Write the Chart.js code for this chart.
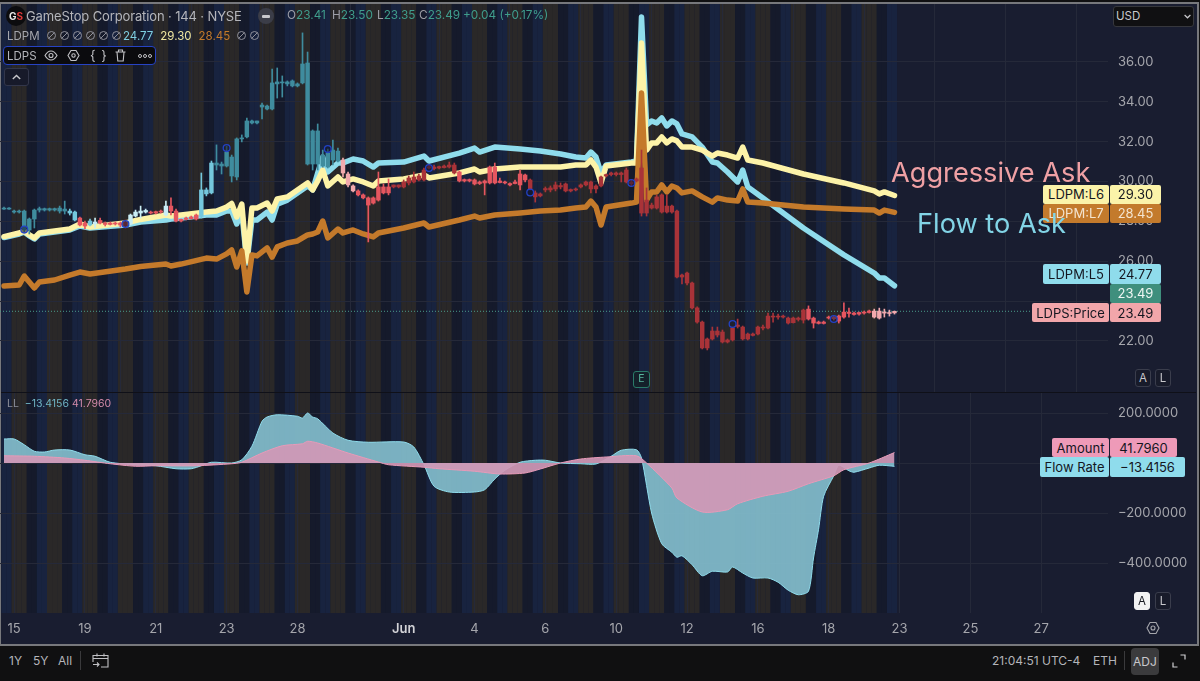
<!DOCTYPE html>
<html>
<head>
<meta charset="utf-8">
<title>GameStop Corporation 144 NYSE</title>
<script src="https://cdn.jsdelivr.net/npm/chart.js@4"></script>
<style>
html, body { margin: 0; padding: 0; width: 1200px; height: 681px; overflow: hidden; background: #101011; font-family: Inter, "Noto Sans", sans-serif; }
#frame { position: absolute; left: 0; top: 2px; width: 1196px; height: 640px; background: #191d30; border: 1px solid #77787c; border-width: 2px 2px 2px 1px; box-sizing: content-box; }
canvas { position: absolute; left: 0; display: block; }
#priceCanvas { top: 4px; }
#flowCanvas { top: 392px; }
.t { position: absolute; white-space: nowrap; line-height: 1; }
.tag { position: absolute; font-size: 13px; color: #14161f; display: flex; align-items: center; justify-content: center; border-radius: 2px; height: 19.3px; white-space: nowrap; }
.btn { position: absolute; width: 16px; height: 18px; border: 1px solid #3a3d4c; border-radius: 3px; color: #c8c8cc; font-size: 11.5px; display: flex; align-items: center; justify-content: center; box-sizing: border-box; background: #181b2a; }
.no { display: inline-block; vertical-align: -1px; margin-right: 2px; }
svg { position: absolute; overflow: visible; }
.no svg { position: static; }
</style>
</head>
<body>
<div id="frame"></div>
<canvas id="priceCanvas" width="1196" height="388"></canvas>
<canvas id="flowCanvas" width="1196" height="250"></canvas>
<div style="position:absolute;left:1px;top:392px;width:1195px;height:1px;background:#0f1018"></div>

<!-- header -->
<div class="t" style="left:6px;top:6px;width:20px;height:20px;border-radius:50%;background:#0c0c0e"></div>
<div class="t" style="left:9px;top:11px;font-size:10px;font-weight:700;color:#e8e8e8">G<span style="color:#e23b3b">S</span></div>
<div class="t" style="left:26px;top:9.5px;font-size:13px;letter-spacing:-.13px;color:#b4b5ba">GameStop Corporation · 144 · NYSE</div>
<div class="t" style="left:258px;top:8px;width:16px;height:16px;border-radius:50%;background:#3b3d48"></div>
<div class="t" style="left:262px;top:15px;width:8px;height:2.5px;border-radius:1px;background:#c8c8cc"></div>
<div class="t" style="left:287px;top:10px;font-size:11.8px;color:#3f9d8c"><span style="color:#9c9da6">O</span>23.41</div>
<div class="t" style="left:332px;top:10px;font-size:11.8px;color:#3f9d8c"><span style="color:#9c9da6">H</span>23.50</div>
<div class="t" style="left:377px;top:10px;font-size:11.8px;color:#3f9d8c"><span style="color:#9c9da6">L</span>23.35</div>
<div class="t" style="left:419px;top:10px;font-size:11.8px;color:#3f9d8c"><span style="color:#9c9da6">C</span>23.49</div>
<div class="t" style="left:463px;top:10px;font-size:11.8px;color:#3f9d8c">+0.04 (+0.17%)</div>
<div class="t" style="left:7px;top:29.5px;font-size:11.5px;color:#a5a6ac" id="ldpmRow"></div>
<div class="t" style="left:3px;top:46px;width:153px;height:19px;background:#0b0b0e;border:1px solid #2743c4;border-radius:4px;box-sizing:border-box"></div>
<div class="t" style="left:7px;top:50.5px;font-size:11.5px;color:#b4b5ba">LDPS</div>
<svg style="left:44px;top:50px" width="14" height="11" viewBox="0 0 14 11" fill="none" stroke="#c0c0c4" stroke-width="1.1"><path d="M1 5.5C3 2 5 1 7 1s4 1 6 4.500C11 9 9 10 7 10S3 9 1 5.500Z"/><circle cx="7" cy="5.500" r="2"/></svg>
<svg style="left:67px;top:49px" width="13" height="13" viewBox="0 0 13 13" fill="none" stroke="#c0c0c4" stroke-width="1.1"><path d="M4 1.500h5l3 5-3 5H4l-3-5Z"/><circle cx="6.500" cy="6.500" r="1.700"/></svg>
<div class="t" style="left:90px;top:49px;font-size:13px;color:#c0c0c4;letter-spacing:1px">{ }</div>
<svg style="left:115px;top:49px" width="11" height="13" viewBox="0 0 11 13" fill="none" stroke="#c0c0c4" stroke-width="1.1"><path d="M.5 3h10M3.500 3V1h4v2M2 3l.8 9h5.400L9 3"/></svg>
<div class="t" style="left:138px;top:54px;width:2px;height:2px;border:1px solid #c0c0c4;border-radius:50%"></div>
<div class="t" style="left:143px;top:54px;width:2px;height:2px;border:1px solid #c0c0c4;border-radius:50%"></div>
<div class="t" style="left:148px;top:54px;width:2px;height:2px;border:1px solid #c0c0c4;border-radius:50%"></div>
<div class="t" style="left:4px;top:68px;width:25px;height:18px;border:1px solid #32364a;border-radius:3px;box-sizing:border-box;background:#171a2a"></div>
<svg style="left:12px;top:74px" width="9" height="6" viewBox="0 0 9 6" fill="none" stroke="#c8c8cc" stroke-width="1.4"><path d="M.8 5 4.500 1.500 8.200 5"/></svg>
<div class="t" style="left:1113px;top:6px;width:81px;height:21px;background:#101012;border:1px solid #36373c;border-radius:3px;box-sizing:border-box"></div>
<div class="t" style="left:1116px;top:11px;font-size:11.5px;color:#c8c8cc">USD</div>
<svg style="left:1184px;top:14px" width="7" height="5" viewBox="0 0 7 5" fill="none" stroke="#c8c8cc" stroke-width="1.2"><path d="M.6 1 3.500 3.800 6.400 1"/></svg>

<!-- lower pane legend -->
<div class="t" style="left:7px;top:399px;font-size:10.5px;color:#8b8d98">LL &nbsp;<span style="color:#6fb4c4">−13.4156</span> <span style="color:#d28aa8">41.7960</span></div>

<!-- earnings marker -->
<div class="t" style="left:633px;top:371px;width:17px;height:17px;border:1px solid #2a7a68;border-radius:3px;box-sizing:border-box;background:#14202a;color:#58b59e;font-size:10.5px;display:flex;align-items:center;justify-content:center">E</div>

<!-- price tags -->
<div class="tag" style="left:1043px;top:184.500px;width:66px;background:#fbf3a9">LDPM:L6</div>
<div class="tag" style="left:1110px;top:184.500px;width:51px;background:#fbf3a9">29.30</div>
<div class="tag" style="left:1043px;top:203.800px;width:66px;background:#c37a2c;color:#f4e4cf">LDPM:L7</div>
<div class="tag" style="left:1110px;top:203.800px;width:51px;background:#c37a2c;color:#f4e4cf">28.45</div>
<div class="tag" style="left:1043px;top:264.300px;width:66px;background:#8fdcec">LDPM:L5</div>
<div class="tag" style="left:1110px;top:264.300px;width:51px;background:#8fdcec">24.77</div>
<div class="tag" style="left:1110px;top:283.600px;width:51px;background:#3f8f7d;color:#eef6f3">23.49</div>
<div class="tag" style="left:1032px;top:302.900px;width:77px;background:#f2a6aa">LDPS:Price</div>
<div class="tag" style="left:1110px;top:302.900px;width:51px;background:#f2a6aa">23.49</div>
<div class="tag" style="left:1052px;top:438px;width:57px;background:#ee9ab8">Amount</div>
<div class="tag" style="left:1110px;top:438px;width:67px;background:#ee9ab8">41.7960</div>
<div class="tag" style="left:1040px;top:457.300px;width:69px;background:#8fdcec">Flow Rate</div>
<div class="tag" style="left:1110px;top:457.300px;width:75px;background:#8fdcec">−13.4156</div>

<!-- annotations on the chart -->
<div class="t" style="left:891px;top:159px;font-size:27.2px;color:#efa0a4">Aggressive Ask</div>
<div class="t" style="left:917px;top:210px;font-size:27.2px;color:#82d4e6">Flow to Ask</div>

<div class="btn" style="left:1135px;top:369px">A</div>
<div class="btn" style="left:1155px;top:369px">L</div>
<div class="btn" style="left:1134px;top:592px;background:#f2f2f2;color:#16181f;border-color:#f2f2f2">A</div>
<div class="btn" style="left:1155px;top:592px">L</div>
<svg style="left:1146px;top:621px" width="14" height="14" viewBox="0 0 14 14" fill="none" stroke="#a5a6ac" stroke-width="1.1"><path d="M4 1.500h6l3 5.500-3 5.500H4L1 7Z"/><circle cx="7" cy="7" r="2"/></svg>

<!-- bottom bar -->
<div class="t" style="left:9px;top:655px;font-size:12px;color:#b4b5ba">1Y</div>
<div class="t" style="left:33px;top:655px;font-size:12px;color:#b4b5ba">5Y</div>
<div class="t" style="left:58px;top:655px;font-size:12px;color:#b4b5ba">All</div>
<div class="t" style="left:80px;top:651px;width:1px;height:19px;background:#3a3a3c"></div>
<svg style="left:92px;top:652px" width="17" height="17" viewBox="0 0 17 17" fill="none" stroke="#c0c0c4" stroke-width="1.1"><path d="M1 10V3.500h15V15H9M1 6.500h15M5 1.500v3M12 1.500v3M1 12.500h6M5 10.500l2 2-2 2"/></svg>
<div class="t" style="left:992px;top:655px;font-size:12px;color:#b4b5ba">21:04:51 UTC-4</div>
<div class="t" style="left:1093px;top:655px;font-size:12px;color:#b4b5ba">ETH</div>
<div class="t" style="left:1124px;top:651px;width:1px;height:19px;background:#3a3a3c"></div>
<div class="t" style="left:1131px;top:648px;width:28px;height:27px;border-radius:4px;background:#3b3b3d;color:#c8c8cc;font-size:12px;display:flex;align-items:center;justify-content:center">ADJ</div>
<svg style="left:1172px;top:654px" width="14" height="14" viewBox="0 0 14 14" fill="none" stroke="#d0d0d4" stroke-width="1.2"><path d="M8.500 1h4.500v4.500M1 8.500V13h4.500"/></svg>

<script>
// Candles, one per 144 minute bar
const bodyTop = [
    28.67,28.67,28.52,28.52,28.52,28.12,28.57,28.64,28.64,28.64,
    28.64,28.67,28.62,28.52,28.47,28.17,27.92,28.02,27.97,28.05,
    27.92,27.92,27.92,27.92,27.97,28.32,28.47,28.52,28.55,28.47,
    28.49,28.52,28.77,28.77,28.52,28.10,28.17,28.22,28.32,29.58,
    29.58,30.93,30.93,30.88,31.48,31.23,32.14,32.19,33.04,33.04,
    33.04,33.84,33.79,34.95,35.00,35.00,35.00,35.05,34.90,35.90,
    35.95,32.54,32.54,31.33,31.43,31.58,31.53,31.08,30.38,29.78,
    29.53,29.33,29.18,29.18,29.73,29.73,29.73,29.83,29.83,29.98,
    30.18,30.23,30.28,30.58,30.75,30.73,30.75,30.78,30.83,30.83,
    30.48,30.10,30.10,30.08,29.98,30.03,30.73,30.73,30.03,29.98,
    29.90,29.98,30.38,30.33,30.08,29.43,29.38,29.65,29.68,29.83,
    29.80,29.88,29.60,29.63,29.83,29.98,29.98,29.78,30.23,30.35,
    30.43,30.43,30.43,30.58,29.98,30.13,30.68,29.07,28.82,29.23,
    29.33,28.77,28.77,28.52,25.31,25.41,24.91,23.66,22.95,22.10,
    22.50,22.50,22.45,22.05,22.65,22.80,22.70,22.35,22.35,22.70,
    22.70,23.25,23.25,23.25,23.25,23.15,23.15,23.15,23.55,23.60,
    23.15,22.95,22.95,23.20,23.20,23.25,23.45,23.45,23.40,23.43,
    23.45,23.50,23.50,23.50,23.45,23.43,23.49
];
const bodyBottom = [
    28.62,28.62,28.47,28.47,27.57,27.57,28.12,28.57,28.57,28.57,
    28.57,28.52,28.52,28.42,28.07,27.82,27.77,27.82,27.87,27.92,
    27.85,27.85,27.87,27.82,27.77,27.87,28.27,28.42,28.47,28.42,
    28.42,28.47,28.32,28.52,28.02,28.02,28.10,28.14,28.12,28.25,
    29.38,29.43,30.83,30.78,30.78,30.28,30.23,32.14,32.24,32.94,
    32.94,33.74,33.64,33.64,34.90,34.95,34.90,34.80,34.80,34.95,
    30.88,30.88,30.88,30.78,30.73,31.08,31.03,30.43,29.83,29.53,
    29.33,29.18,28.82,28.92,29.07,29.43,29.43,29.73,29.73,29.73,
    29.93,29.98,30.08,30.08,30.68,30.65,30.68,30.70,30.73,30.43,
    30.03,30.03,30.03,29.88,29.90,29.93,29.93,29.93,29.95,29.93,
    29.83,29.90,29.83,30.08,29.63,29.23,29.28,29.58,29.58,29.63,
    29.73,29.53,29.53,29.58,29.73,29.83,29.63,29.63,29.78,30.28,
    30.35,30.35,30.35,29.98,29.88,30.03,28.42,28.42,28.67,28.67,
    28.47,28.47,28.47,25.21,25.21,24.91,23.66,22.95,21.65,21.65,
    22.10,22.30,21.95,21.95,22.05,22.73,22.10,22.10,22.28,22.35,
    22.65,22.65,23.20,23.20,23.20,22.90,22.92,23.08,23.05,23.10,
    22.90,22.88,22.88,23.15,23.12,23.00,23.20,23.38,23.33,23.35,
    23.40,23.43,23.20,23.15,23.40,23.38,23.41
];
const wickHigh = [
    28.72,28.69,28.57,28.57,28.57,28.17,28.62,28.72,28.67,28.67,
    28.67,28.77,29.02,28.62,28.52,28.22,28.02,28.12,28.17,28.17,
    27.97,27.97,27.97,27.97,28.07,28.37,28.57,28.77,28.62,28.52,
    28.52,28.57,29.02,29.18,28.62,28.12,28.22,28.27,28.37,30.43,
    29.68,31.03,31.84,30.98,31.78,31.33,32.19,32.34,33.19,33.09,
    33.04,33.94,33.84,35.65,35.70,35.30,35.05,35.10,34.95,37.46,
    36.50,32.59,32.89,31.58,31.63,32.08,31.68,31.18,30.48,29.83,
    29.58,29.38,29.23,29.23,30.48,29.88,30.13,29.83,29.83,30.08,
    30.28,30.48,30.38,30.68,30.83,30.83,30.78,30.83,30.98,30.93,
    30.53,30.13,30.13,30.13,30.03,30.08,30.78,30.93,30.18,30.03,
    29.93,30.08,30.58,30.38,30.13,29.53,29.43,29.73,29.78,29.98,
    29.93,29.93,29.63,29.68,29.88,30.03,30.03,29.83,30.28,30.38,
    30.48,30.48,30.48,30.68,30.08,30.18,31.58,29.68,28.92,29.33,
    29.38,29.33,28.82,28.57,25.36,25.46,24.96,23.71,23.00,22.15,
    22.70,22.70,22.55,22.10,22.70,23.10,22.75,22.40,22.40,22.75,
    22.80,23.40,23.40,23.35,23.30,23.20,23.20,23.20,23.60,23.76,
    23.20,23.00,23.00,23.25,23.25,23.30,23.91,23.65,23.45,23.45,
    23.50,23.55,23.60,23.65,23.60,23.55,23.50
];
const wickLow = [
    28.60,28.60,28.42,28.42,27.47,27.37,27.67,28.47,28.52,28.52,
    28.52,28.42,28.37,28.32,28.02,27.77,27.62,27.77,27.67,27.87,
    27.77,27.82,27.82,27.72,27.67,27.82,28.22,28.17,28.42,28.37,
    28.37,28.42,28.27,28.32,27.97,27.97,28.07,28.12,28.07,28.17,
    29.28,29.38,30.58,30.38,30.73,29.98,30.08,31.99,32.19,32.89,
    32.89,33.14,33.59,33.59,34.19,34.24,34.80,34.75,34.75,34.90,
    30.83,30.58,30.58,30.73,30.68,30.83,30.98,30.23,29.73,29.48,
    29.28,29.13,26.97,28.87,29.02,29.38,29.33,29.68,29.68,29.68,
    29.83,29.93,30.03,30.03,30.63,30.58,30.63,30.68,30.68,30.38,
    29.98,29.98,29.98,29.83,29.85,29.33,29.88,29.88,29.93,29.88,
    29.78,29.88,29.58,29.98,29.58,28.97,29.23,29.48,29.48,29.53,
    29.63,29.48,29.48,29.53,29.68,29.78,29.43,29.43,29.73,30.23,
    30.28,30.28,29.98,29.93,29.78,29.98,28.27,28.27,28.62,28.62,
    28.42,28.42,28.42,25.16,24.86,24.81,23.61,22.90,21.60,21.55,
    22.05,22.20,21.90,21.90,22.00,22.65,22.05,22.05,22.25,22.30,
    22.55,22.60,22.95,23.10,23.15,22.85,22.90,23.00,22.90,23.05,
    22.65,22.85,22.85,23.10,23.05,22.90,23.15,23.20,23.30,23.30,
    23.35,23.40,23.15,23.10,23.20,23.25,23.35
];
// Flow state of each bar, 0 strong bid ... 5 strong ask
const flowState = [
    0,0,0,0,0,0,0,0,0,0,0,0,0,1,1,4,4,1,2,4,4,4,4,4,5,2,2,2,2,4,4,4,2,4,4,4,4,4,4,1,1,1,
    0,0,0,0,0,0,0,0,0,0,0,0,0,0,0,0,0,0,0,0,0,0,0,0,0,
    3,3,3,4,4,4,4,4,4,4,5,5,5,5,5,5,5,5,5,5,5,5,5,
    4,4,4,4,4,4,4,4,4,4,4,4,4,4,5,5,
    5,5,5,5,5,5,5,5,5,5,5,5,5,5,5,5,5,5,5,5,
    5,5,5,5,5,5,5,5,5,5,5,5,5,5,5,5,5,5,5,5,5,5,5,5,5,5,5,5,5,5,5,5,5,
    4,4,4,4,4,4,4,4,4,4,4,4,4,3,3,3,3,3
];
const markerBars = [4,24,44,64,84,104,124,144,164];
const markerPrices = [27.59,27.87,31.68,31.63,30.68,29.45,29.93,22.85,23.10];

// LDPM lines, read at their turning points
const lineBars = [0,3,4,5,6,7,10,13,15,17,24,27,32,33,35,40,42,44,45,46,47,48,49,50,52,53,54,56,58,60,61,62,63,64,66,67,69,71,73,74,79,83,84,90,93,94,97,102,106,110,113,115,116,117,118,119,124,125,126,127,128,129,130,131,132,133,134,136,138,140,141,143,145,146,147,150,158,166,172,173,174,176];
const ldpmL6 = [27.24,27.42,27.52,27.32,27.17,27.42,27.52,27.62,27.87,27.72,27.92,28.10,28.32,28.27,28.32,28.47,28.52,28.72,28.90,28.22,28.87,26.01,28.67,28.67,28.92,28.52,29.13,29.23,29.58,29.93,29.58,30.03,30.58,29.78,30.23,29.98,30.13,29.98,29.78,30.03,30.13,30.33,30.18,30.43,30.63,30.48,30.63,30.73,30.73,30.73,30.83,30.83,31.08,30.73,29.93,30.78,30.93,30.93,36.95,31.58,31.94,31.94,32.24,31.94,32.14,32.04,31.73,31.73,31.58,31.28,31.43,31.33,31.18,31.73,31.08,30.93,30.38,29.93,29.53,29.38,29.48,29.30];
const ldpmL5 = [27.19,27.37,27.47,27.27,27.12,27.37,27.47,27.57,27.77,27.67,27.82,27.97,28.07,28.12,28.17,28.32,28.32,28.52,28.52,27.87,28.47,25.91,28.07,28.07,28.47,28.07,28.87,29.07,29.43,29.78,29.58,30.43,31.23,30.48,30.93,30.93,31.13,31.03,30.73,30.93,30.98,31.28,31.03,31.43,31.68,31.48,31.73,31.63,31.53,31.38,31.23,31.18,31.48,31.23,30.43,30.83,30.98,31.03,38.26,32.84,33.04,32.94,33.19,32.79,33.04,32.89,32.39,32.24,31.73,30.98,30.93,30.48,29.98,30.58,29.73,29.18,27.67,26.32,25.41,25.16,25.16,24.77];
const ldpmL7 = [24.76,24.81,25.26,24.96,24.66,24.96,25.06,25.31,25.46,25.36,25.61,25.74,25.86,25.76,25.86,26.16,26.11,26.37,26.57,25.71,26.52,24.46,26.32,26.27,26.67,26.21,26.72,26.92,27.02,27.32,27.37,27.47,28.02,27.17,27.62,27.42,27.57,27.37,27.22,27.42,27.67,27.92,27.72,28.07,28.27,28.17,28.32,28.42,28.52,28.57,28.67,28.72,29.02,28.72,27.82,28.72,28.92,28.97,34.44,29.07,29.48,29.48,29.83,29.48,29.78,29.68,29.43,29.53,29.23,28.97,29.18,29.07,29.02,29.63,28.97,28.92,28.72,28.62,28.57,28.42,28.57,28.45];
const lastPrice = 23.49;

// Lower pane
const flowBars = [0,2,4,6,8,10,13,16,18,21,26,30,34,37,39,41,45,47,49,51,52,54,58,59,60,61,62,65,68,72,79,81,83,85,88,93,95,97,99,102,105,107,110,114,117,120,122,125,126,128,130,132,133,134,136,138,140,143,144,146,148,151,153,155,157,159,160,161,162,164,165,167,168,171,173,176];
const flowRate = [96,96,73,47,44,52,52,33,27,3,-7,-11,-23,-23,-11,3,0,13,67,167,184,193,187,180,200,184,177,120,91,83,84,64,-7,-93,-116,-116,-107,-64,-29,3,11,11,0,-3,-4,27,51,53,20,-200,-323,-357,-377,-371,-407,-451,-433,-436,-416,-440,-460,-460,-477,-509,-527,-513,-380,-265,-133,-51,-9,-31,-37,-20,-9,-13.4156];
const amountBars = [0,6,12,16,21,26,30,38,45,47,51,55,59,60,62,68,74,76,83,86,93,98,103,106,110,114,119,125,127,132,133,138,143,145,150,155,159,164,166,171,176];
const amount = [29,27,20,11,-3,-13,-11,-11,-3,3,40,69,77,87,80,40,4,-7,-17,-23,-33,-44,-40,-24,0,16,24,29,0,-100,-140,-196,-187,-163,-133,-113,-83,-51,-27,0,41.796];

// Axes
const tickBars = [2,16,30,44,58,79,93,107,121,135,149,163,177,191,205];
const tickLabels = ['15','19','21','23','28','Jun','4','6','10','12','16','18','23','25','27'];
const priceTicks = [36,34,32,30,28,26,24,22];
const flowTicks = [200,0,-200,-400];
// Session of each bar within a trading day
const sessionCycle = ['night','night','day','day','day','dusk','dusk'];

const barCount = bodyTop.length;
const xMin = -0.79, xMax = 218.2;
const sessionColors = { night: '#18233f', day: '#2a2828', dusk: '#151a2b' };
const stateColors = ['#3f8c9e', '#74c7dd', '#c9edf5', '#f2a9ad', '#e5565f', '#a93338'];
const gridColor = '#252939';
const tickColor = '#a5a6ac';
const tickFont = { family: 'Inter', size: 13 };
const monthFont = { family: 'Inter', size: 13, weight: '600' };

function isMonth(ctx) {
    return ctx.tick && tickLabels[tickBars.indexOf(ctx.tick.value)] === 'Jun';
}

// Panes sit edge to edge, so the axes must not ask for room around the plot
function dropPadding(scale) {
    scale.paddingTop = scale.paddingBottom = scale.paddingLeft = scale.paddingRight = 0;
}

// Session stripes behind the marks
const sessionBands = {
    id: 'sessionBands',
    beforeDraw(chart) {
        const { ctx, chartArea, scales: { x } } = chart;
        ctx.save();
        for (let i = 0; i < barCount; i++) {
            ctx.fillStyle = sessionColors[sessionCycle[i % sessionCycle.length]];
            const left = x.getPixelForValue(i - 0.5);
            const right = x.getPixelForValue(i + 0.5);
            ctx.fillRect(left, chartArea.top, right - left, chartArea.bottom - chartArea.top);
        }
        ctx.restore();
    }
};

function pointsFrom(bars, values) {
    return bars.map((bar, i) => ({ x: bar, y: values[i] }));
}

function lineSet(bars, values, color, width, order) {
    return {
        type: 'line',
        data: pointsFrom(bars, values),
        borderColor: color,
        borderWidth: width,
        borderJoinStyle: 'round',
        borderCapStyle: 'round',
        pointRadius: 0,
        tension: 0,
        order: order
    };
}

function xAxis(showLabels) {
    return {
        type: 'linear',
        min: xMin,
        max: xMax,
        offset: false,
        afterBuildTicks: scale => { scale.ticks = tickBars.map(bar => ({ value: bar })); },
        afterFit: scale => { scale.height = showLabels ? 29 : 0; dropPadding(scale); },
        border: { display: false },
        grid: { color: gridColor, drawTicks: false },
        ticks: {
            display: showLabels,
            autoSkip: false,
            maxRotation: 0,
            padding: 8,
            color: ctx => isMonth(ctx) ? '#d2d2d6' : tickColor,
            font: ctx => isMonth(ctx) ? monthFont : tickFont,
            callback: value => tickLabels[tickBars.indexOf(value)]
        }
    };
}

function yAxis(min, max, ticks, format) {
    return {
        position: 'right',
        min: min,
        max: max,
        afterBuildTicks: scale => { scale.ticks = ticks.map(v => ({ value: v })); },
        afterFit: scale => { scale.width = 88; dropPadding(scale); },
        border: { display: false },
        grid: { color: gridColor, drawTicks: false },
        ticks: { color: tickColor, font: tickFont, padding: 10, callback: format }
    };
}

new Chart(document.getElementById('priceCanvas'), {
    type: 'bar',
    data: {
        datasets: [
            {
                data: wickHigh.map((h, i) => ({ x: i, y: [wickLow[i], h] })),
                backgroundColor: flowState.map(s => stateColors[s]),
                barThickness: 1,
                grouped: false,
                order: 3
            },
            {
                data: bodyTop.map((t, i) => ({ x: i, y: [bodyBottom[i], t] })),
                backgroundColor: flowState.map(s => stateColors[s]),
                barThickness: 3.8,
                grouped: false,
                order: 2
            },
            {
                type: 'line',
                data: pointsFrom(markerBars, markerPrices),
                showLine: false,
                pointRadius: 3.4,
                pointBorderWidth: 1.3,
                pointBorderColor: '#2342c6',
                pointBackgroundColor: 'rgba(22,26,52,0.55)',
                order: 1
            },
            lineSet(lineBars, ldpmL7, '#c47a2b', 5.5, 4),
            lineSet(lineBars, ldpmL6, '#fdf3a8', 5.5, 5),
            lineSet(lineBars, ldpmL5, '#8fdcec', 5.5, 6),
            {
                type: 'line',
                data: [{ x: xMin, y: lastPrice }, { x: xMax, y: lastPrice }],
                borderColor: '#4a9c8c',
                borderWidth: 1,
                borderDash: [1, 2],
                pointRadius: 0,
                order: 7
            }
        ]
    },
    options: {
        responsive: false,
        animation: false,
        layout: { padding: 0, autoPadding: false },
        plugins: { legend: { display: false }, tooltip: { enabled: false } },
        scales: {
            x: xAxis(false),
            y: yAxis(19.44, 38.91, priceTicks, v => v.toFixed(2))
        }
    },
    plugins: [sessionBands]
});

new Chart(document.getElementById('flowCanvas'), {
    type: 'line',
    data: {
        datasets: [
            {
                data: pointsFrom(amountBars, amount),
                borderColor: '#e79ab8',
                borderWidth: 1,
                backgroundColor: 'rgba(208,152,182,0.92)',
                fill: { value: 0 },
                pointRadius: 0,
                tension: 0.25,
                order: 1
            },
            {
                data: pointsFrom(flowBars, flowRate),
                borderColor: '#8fdcec',
                borderWidth: 1,
                backgroundColor: 'rgba(128,184,200,0.95)',
                fill: { value: 0 },
                pointRadius: 0,
                tension: 0.25,
                order: 2
            }
        ]
    },
    options: {
        responsive: false,
        animation: false,
        layout: { padding: 0, autoPadding: false },
        plugins: { legend: { display: false }, tooltip: { enabled: false } },
        scales: {
            x: xAxis(true),
            y: yAxis(-600, 284, flowTicks, v => (v < 0 ? '−' : '') + Math.abs(v).toFixed(4))
        }
    },
    plugins: [sessionBands]
});

// Indicator row with its hidden outputs
const noSign = '<span class="no"><svg width="11" height="11" viewBox="0 0 11 11" fill="none" stroke="#8f909a" stroke-width="1"><circle cx="5.500" cy="5.500" r="4"/><path d="M2.700 8.300 8.300 2.700"/></svg></span>';
document.getElementById('ldpmRow').innerHTML = 'LDPM &nbsp;' + noSign.repeat(6)
    + '<span style="color:#7fcfe0;margin-left:-1px">24.77</span><span style="color:#efe6a0;margin-left:7px">29.30</span><span style="color:#c47a2b;margin-left:7px">28.45</span><span style="margin-left:6px"></span>' + noSign.repeat(2);
</script>
</body>
</html>
